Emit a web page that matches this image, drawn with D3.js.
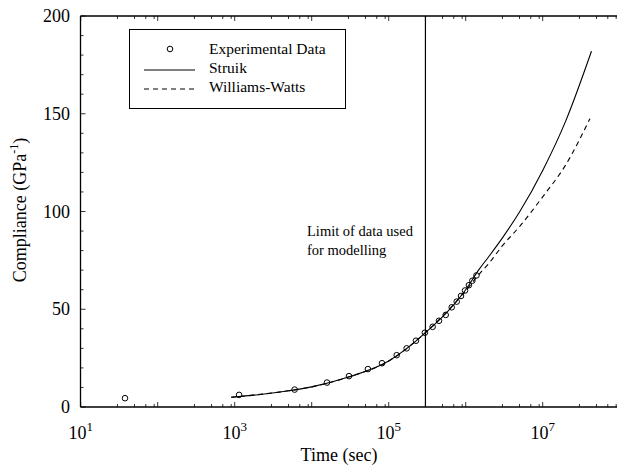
<!DOCTYPE html>
<html><head><meta charset="utf-8">
<script src="https://cdn.jsdelivr.net/npm/d3@7"></script>
<style>
body{margin:0;background:#fff;}
text{font-family:"Liberation Serif","Times New Roman",serif;fill:#000;}
</style></head>
<body><svg id="c" width="617" height="469"></svg>
<script>
// ---- data ----
const expTime = [37.6, 1140, 6000, 15800, 30500, 53700, 81800, 127000, 171000, 226000, 295000, 372000, 450000, 550000, 658000, 764000, 869000, 980000, 1100000, 1220000, 1380000];
const expComp = [4.5, 6.2, 8.9, 12.5, 15.8, 19.4, 22.4, 26.5, 30, 33.9, 38, 41, 44.1, 47.1, 51, 53.9, 56.8, 59.6, 62.3, 64.6, 67.3];
const struikTime = [900, 2000, 5000, 1e4, 3e4, 1e5, 3e5, 1e6, 1.5e6, 2e6, 3e6, 5e6, 1e7, 2e7, 4.3e7];
const struikComp = [5.0, 6.3, 8.3, 10.3, 15.3, 23.5, 38, 60, 70.5, 77, 86.5, 99.7, 121, 146.5, 182];
const wwTime = [900, 2000, 5000, 1e4, 3e4, 1e5, 3e5, 1e6, 1.5e6, 2e6, 3e6, 5e6, 1e7, 2e7, 4.1e7];
const wwComp = [5.0, 6.3, 8.3, 10.3, 15.3, 23.5, 38, 59.5, 68, 73.5, 82.5, 92.3, 107.5, 124, 147.5];
const limitTime = 3e5;
const xMajor = [1e1, 1e2, 1e3, 1e4, 1e5, 1e6, 1e7, 1e8];
const xLabelExp = [1, 3, 5, 7];
const minorMult = [3, 5, 7, 9];
const yMajor = [0, 50, 100, 150, 200];
const legendLabels = ["Experimental Data", "Struik", "Williams-Watts"];

const svg = d3.select("#c");
const x = d3.scaleLog().domain([1e1, 1e8]).range([80.7, 619.7]);
const y = d3.scaleLinear().domain([0, 200]).range([407, 16]);

const xMinor = [];
xMajor.forEach(m => minorMult.forEach(k => { if (m*k < 1e8) xMinor.push(m*k); }));
const yMinor = d3.range(0, 201, 10).filter(v => v % 50 !== 0);

const g = svg.append("g");
// axes lines
g.append("line").attr("x1", 80.5).attr("x2", 80.5).attr("y1", y(200)).attr("y2", y(0)).attr("stroke","#000").attr("stroke-width",1.3);
g.append("line").attr("x1", 80.5).attr("x2", 617).attr("y1", y(0)).attr("y2", y(0)).attr("stroke","#000").attr("stroke-width",1.3);
g.append("line").attr("x1", 80.5).attr("x2", 617).attr("y1", y(200)).attr("y2", y(200)).attr("stroke","#000").attr("stroke-width",1.3);

// x ticks bottom and top
function xt(vals, len){
  vals.forEach(v=>{
    g.append("line").attr("x1",x(v)).attr("x2",x(v)).attr("y1",y(0)).attr("y2",y(0)-len).attr("stroke","#000").attr("stroke-width",0.8);
    g.append("line").attr("x1",x(v)).attr("x2",x(v)).attr("y1",y(200)).attr("y2",y(200)+len).attr("stroke","#000").attr("stroke-width",0.8);
  });
}
xt(xMajor, 5); xt(xMinor, 3);
yMajor.forEach(v=>g.append("line").attr("x1",80.5).attr("x2",85.5).attr("y1",y(v)).attr("y2",y(v)).attr("stroke","#000").attr("stroke-width",0.8));
yMinor.forEach(v=>g.append("line").attr("x1",80.5).attr("x2",83.5).attr("y1",y(v)).attr("y2",y(v)).attr("stroke","#000").attr("stroke-width",0.8));

// tick labels
yMajor.forEach(v=>g.append("text").attr("x",70).attr("y",y(v)+6).attr("text-anchor","end").attr("font-size",18).text(v));
xLabelExp.forEach(e=>{
  const t = g.append("text").attr("x",x(Math.pow(10,e))).attr("y",439).attr("text-anchor","middle").attr("font-size",18);
  t.append("tspan").text("10");
  t.append("tspan").attr("dy",-8).attr("font-size",13).text(e);
});

// axis titles
g.append("text").attr("x",339).attr("y",461).attr("text-anchor","middle").attr("font-size",18).text("Time (sec)");
const yl = g.append("text").attr("transform","translate(26,210) rotate(-90)").attr("text-anchor","middle").attr("font-size",18);
yl.append("tspan").text("Compliance (GPa");
yl.append("tspan").attr("dy",-8).attr("font-size",12).text("-1");
yl.append("tspan").attr("dy",8).text(")");

// limit line
g.append("line").attr("x1",x(limitTime)).attr("x2",x(limitTime)).attr("y1",y(200)).attr("y2",y(0)).attr("stroke","#000").attr("stroke-width",1.2);
g.append("text").attr("x",307).attr("y",236).attr("font-size",14.5).text("Limit of data used");
g.append("text").attr("x",307).attr("y",255).attr("font-size",14.5).text("for modelling");

// curves
const line = d3.line().x(d=>x(d[0])).y(d=>y(d[1])).curve(d3.curveMonotoneX);
g.append("path").attr("d", line(struikTime.map((t,i)=>[t, struikComp[i]]))).attr("fill","none").attr("stroke","#000").attr("stroke-width",1.1);
g.append("path").attr("d", line(wwTime.map((t,i)=>[t, wwComp[i]]))).attr("fill","none").attr("stroke","#000").attr("stroke-width",1.1).attr("stroke-dasharray","5,4");

// points
g.selectAll("circle.p").data(expTime.map((t,i)=>[t, expComp[i]])).enter().append("circle")
 .attr("cx",d=>x(d[0])).attr("cy",d=>y(d[1])).attr("r",2.8).attr("fill","none").attr("stroke","#000").attr("stroke-width",1);

// legend
const lg = g.append("g");
lg.append("rect").attr("x",129.5).attr("y",29.5).attr("width",216).attr("height",79).attr("fill","#fff").attr("stroke","#000").attr("stroke-width",1);
lg.append("circle").attr("cx",170).attr("cy",49).attr("r",2.8).attr("fill","none").attr("stroke","#000");
lg.append("line").attr("x1",144).attr("x2",195).attr("y1",70).attr("y2",70).attr("stroke","#000").attr("stroke-width",1.1);
lg.append("line").attr("x1",144).attr("x2",195).attr("y1",89).attr("y2",89).attr("stroke","#000").attr("stroke-width",1.1).attr("stroke-dasharray","5,4");
legendLabels.forEach((s,i)=>lg.append("text").attr("x",209).attr("y",54+i*19).attr("font-size",15.5).text(s));
</script></body></html>
